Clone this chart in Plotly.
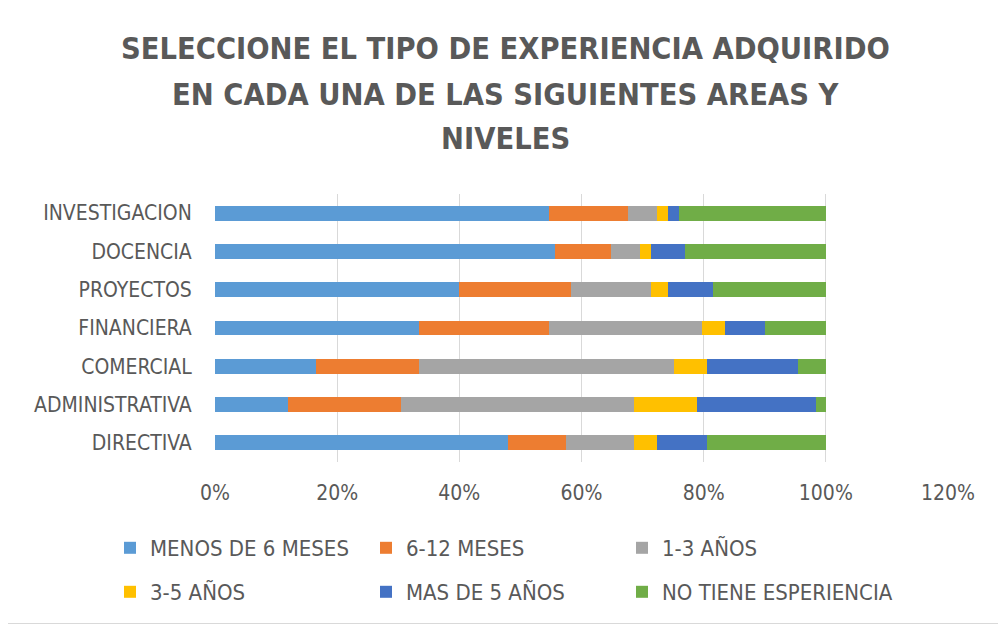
import plotly.graph_objects as go

# Categories (bottom to top as drawn)
categories = ["DIRECTIVA", "ADMINISTRATIVA", "COMERCIAL", "FINANCIERA",
              "PROYECTOS", "DOCENCIA", "INVESTIGACION"]

series_names = ["MENOS DE 6 MESES", "6-12 MESES", "1-3 AÑOS",
                "3-5 AÑOS", "MAS DE 5 AÑOS", "NO TIENE ESPERIENCIA"]

# Percent values per series, same order as categories
menos_6_meses = [48.0, 12.0, 16.6, 33.4, 39.9, 55.6, 54.6]
meses_6_12 = [9.5, 18.4, 16.8, 21.2, 18.4, 9.2, 13.0]
anos_1_3 = [11.1, 38.2, 41.7, 25.2, 13.1, 4.7, 4.8]
anos_3_5 = [3.8, 10.3, 5.4, 3.7, 2.7, 1.8, 1.7]
mas_5_anos = [8.1, 19.5, 15.0, 6.5, 7.5, 5.7, 1.9]
no_tiene = [19.5, 1.6, 4.5, 10.0, 18.4, 23.0, 24.0]

series_values = [menos_6_meses, meses_6_12, anos_1_3, anos_3_5, mas_5_anos, no_tiene]
colors = ["#5B9BD5", "#ED7D31", "#A5A5A5", "#FFC000", "#4472C4", "#70AD47"]

tick_vals = [0, 20, 40, 60, 80, 100, 120]
tick_text = ["0%", "20%", "40%", "60%", "80%", "100%", "120%"]

title_lines = ["SELECCIONE EL TIPO DE EXPERIENCIA ADQUIRIDO",
               "EN CADA UNA DE LAS SIGUIENTES AREAS Y",
               "NIVELES"]

FONT = "Liberation Sans Narrow, DejaVu Sans Condensed, Arial Narrow, sans-serif"
TXT = "#595959"

# The page body adds an 8px offset; work in page pixels and convert.
OFF = 8
W, H = 1006 - OFF, 626 - OFF
PL, PR, PT, PB = 215, 948, 194, 462  # plot area in page pixels
L, R, T, B = PL - OFF, W - (PR - OFF), PT - OFF, H - (PB - OFF)
PW, PH = PR - PL, PB - PT


def px_x(px):
    return (px - PL) / PW


def px_y(py):
    return (PB - py) / PH


fig = go.Figure()
for i, (name, vals, col) in enumerate(zip(series_names, series_values, colors)):
    fig.add_trace(go.Bar(
        y=categories, x=vals, name=name, orientation="h",
        marker=dict(color=col, line=dict(width=0)),
        legend="legend" if i < 3 else "legend2",
        legendwidth=270 if i == 5 else None,
        hovertemplate="%{y}: %{x}%<extra>" + name + "</extra>",
    ))

legend_common = dict(
    orientation="h", xanchor="left", yanchor="middle",
    entrywidth=211, entrywidthmode="pixels",
    font=dict(family=FONT, size=22, color=TXT),
    bgcolor="rgba(0,0,0,0)", itemclick=False, itemdoubleclick=False,
    traceorder="normal",
)

title_y = [48, 94, 138]
annotations = [
    dict(text=line, x=px_x(505), y=px_y(yy), xref="paper", yref="paper",
         xanchor="center", yanchor="middle", showarrow=False,
         font=dict(family=FONT, size=30.5, color=TXT, weight="bold"))
    for line, yy in zip(title_lines, title_y)
]

fig.update_layout(
    width=W, height=H,
    margin=dict(l=L, r=R, t=T, b=B, autoexpand=False),
    paper_bgcolor="white", plot_bgcolor="white",
    barmode="stack", bargap=0.61,
    xaxis=dict(
        range=[0, 120], tickmode="array", tickvals=tick_vals, ticktext=tick_text,
        showgrid=True, gridcolor="#D9D9D9", gridwidth=1,
        zeroline=False, showline=False,
        ticks="outside", ticklen=12, tickcolor="rgba(0,0,0,0)",
        tickfont=dict(family=FONT, size=21, color=TXT),
        fixedrange=True,
    ),
    yaxis=dict(
        categoryorder="array", categoryarray=categories,
        showgrid=False, zeroline=False, showline=False,
        ticks="outside", ticklen=18, tickcolor="rgba(0,0,0,0)",
        tickfont=dict(family=FONT, size=21, color=TXT),
        fixedrange=True,
    ),
    legend=dict(x=px_x(110), y=px_y(548), **legend_common),
    legend2=dict(x=px_x(110), y=px_y(592), **legend_common),
    annotations=annotations,
    shapes=[dict(
        type="rect", xref="paper", yref="paper",
        x0=px_x(1.5), x1=px_x(1003.5), y0=px_y(623.5), y1=px_y(2.5),
        line=dict(color="#D9D9D9", width=1), fillcolor="rgba(0,0,0,0)",
        layer="below",
    )],
    showlegend=True,
)

fig.write_html("out.html")
